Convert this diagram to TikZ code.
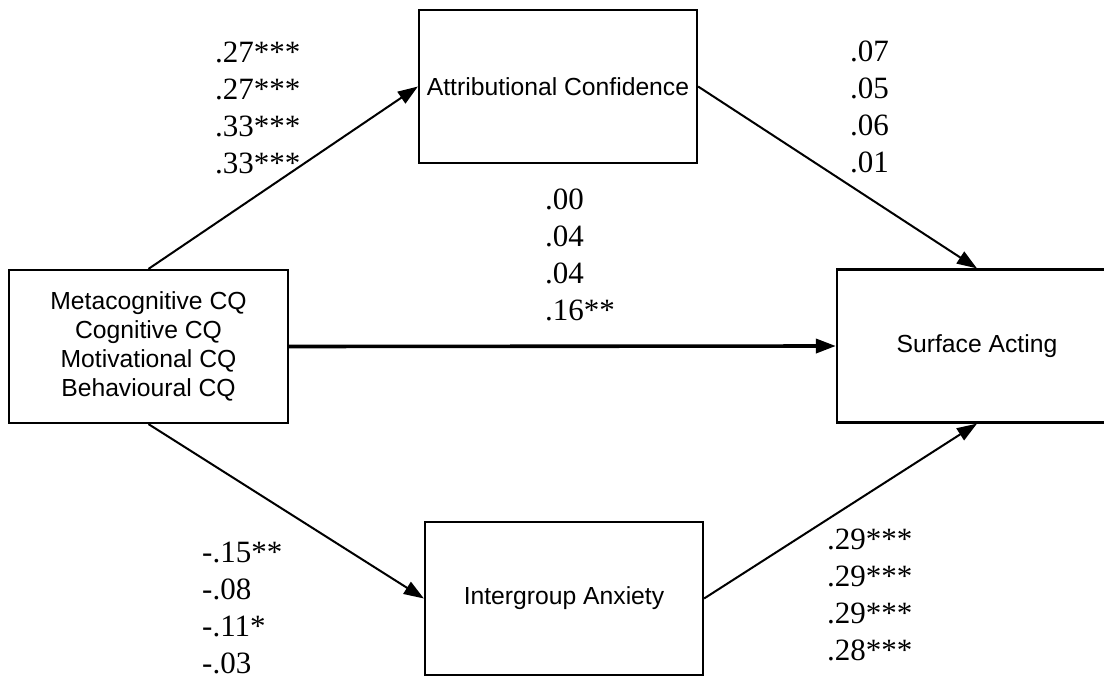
\documentclass[tikz,border=0pt]{standalone}
\usepackage{fontspec}
\setmainfont{Liberation Serif}
\newfontfamily\boxfont{Liberation Sans}
\usetikzlibrary{arrows.meta}
\tikzset{
  varbox/.style={draw=black, line width=2.2pt, minimum width=278pt, minimum height=153pt,
    inner sep=0pt, align=center, font=\boxfont\fontsize{24.7}{29}\selectfont},
  coef/.style={anchor=base west, align=left, inner sep=0pt,
    font=\fontsize{31}{36.7}\selectfont},
  path/.style={line width=2pt, -{Triangle[length=20pt,width=14pt]}},
  thickpath/.style={line width=3.6pt, -{Triangle[length=20pt,width=14pt]}},
}
\begin{document}
\begin{tikzpicture}[x=1pt,y=-1pt]
\useasboundingbox (0,0) rectangle (1104,677);
\clip (0,0) rectangle (1104,677);
\node[varbox, minimum width=279pt] (cq) at (148.5,346.5) {Metacognitive CQ\\Cognitive CQ\\Motivational CQ\\Behavioural CQ};
\node[varbox] (ac) at (558,86.5) {Attributional Confidence};
\node[varbox, minimum width=280pt] (sa) at (977,346) {Surface Acting};
\node[varbox] (ia) at (564,598.5) {Intergroup Anxiety};

\draw[path] (cq.north) -- (ac.west);
\draw[path] (ac.east) -- (sa.north);
\draw[thickpath] (cq.east) -- (sa.west);
\draw[path] (cq.south) -- (ia.west);
\draw[path] (ia.east) -- (sa.south);

\node[coef] (l1) at (215,173) {.27***\\.27***\\.33***\\.33***};
\node[coef] (l2) at (850,172) {.07\\.05\\.06\\.01};
\node[coef] (l3) at (545,320) {.00\\.04\\.04\\.16**};
\node[coef] (l4) at (202,673) {-.15**\\-.08\\-.11*\\-.03};
\node[coef] (l5) at (827,660) {.29***\\.29***\\.29***\\.28***};
\end{tikzpicture}
\end{document}
